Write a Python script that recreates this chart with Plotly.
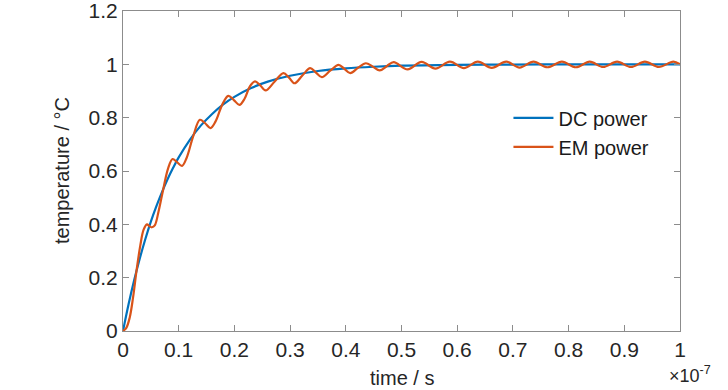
import plotly.graph_objects as go

# time in units of 1e-7 s
dc_t = [0, 0.01, 0.02, 0.03, 0.04, 0.05, 0.06, 0.07, 0.08, 0.09, 0.10, 0.12, 0.14, 0.16,
        0.18, 0.20, 0.23, 0.26, 0.30, 0.35, 0.40, 0.45, 0.50, 0.60, 0.70, 0.80, 0.90, 1.00]
dc_temp = [0, 0.100, 0.190, 0.271, 0.344, 0.410, 0.468, 0.521, 0.569, 0.612, 0.651, 0.717,
           0.771, 0.814, 0.850, 0.878, 0.911, 0.935, 0.957, 0.975, 0.985, 0.991, 0.995,
           0.998, 0.999, 1.000, 1.000, 1.000]

em_t = [0, 0.006, 0.012, 0.018, 0.024, 0.031, 0.037, 0.043, 0.048, 0.052, 0.057, 0.064,
        0.072, 0.081, 0.089, 0.097, 0.106, 0.114, 0.126, 0.138, 0.147, 0.157, 0.166, 0.178,
        0.189, 0.199, 0.209, 0.218, 0.228, 0.237, 0.246, 0.256, 0.272, 0.288, 0.298, 0.308,
        0.322, 0.336, 0.346, 0.357, 0.372, 0.387, 0.397, 0.408, 0.422, 0.436, 0.448, 0.461,
        0.474, 0.486, 0.511, 0.536, 0.561, 0.587, 0.612, 0.637, 0.662, 0.688, 0.712, 0.737,
        0.762, 0.788, 0.813, 0.838, 0.862, 0.887, 0.912, 0.937, 0.962, 0.988, 1.000]
em_temp = [0, 0.012, 0.050, 0.125, 0.222, 0.320, 0.380, 0.400, 0.392, 0.389, 0.396, 0.450,
           0.529, 0.610, 0.645, 0.633, 0.619, 0.648, 0.730, 0.792, 0.780, 0.761, 0.785, 0.848,
           0.882, 0.866, 0.848, 0.870, 0.918, 0.936, 0.922, 0.902, 0.935, 0.967, 0.950, 0.929,
           0.958, 0.986, 0.970, 0.952, 0.976, 0.998, 0.984, 0.967, 0.987, 1.004, 0.992, 0.977,
           0.994, 1.008, 0.981, 1.009, 0.984, 1.010, 0.986, 1.010, 0.987, 1.010, 0.988, 1.010,
           0.989, 1.010, 0.989, 1.010, 0.990, 1.010, 0.990, 1.010, 0.990, 1.010, 1.000]

x_ticks = [0, 0.1, 0.2, 0.3, 0.4, 0.5, 0.6, 0.7, 0.8, 0.9, 1.0]
x_labels = ["0", "0.1", "0.2", "0.3", "0.4", "0.5", "0.6", "0.7", "0.8", "0.9", "1"]
y_ticks = [0, 0.2, 0.4, 0.6, 0.8, 1.0, 1.2]
y_labels = ["0", "0.2", "0.4", "0.6", "0.8", "1", "1.2"]

FONT = "Liberation Sans, Arial, sans-serif"
TXT = "#262626"

fig = go.Figure()
fig.add_trace(go.Scatter(x=dc_t, y=dc_temp, mode="lines", name="DC power",
                         line=dict(color="#0072BD", width=2.2, shape="spline")))
fig.add_trace(go.Scatter(x=em_t, y=em_temp, mode="lines", name="EM power",
                         line=dict(color="#D95319", width=2.2, shape="spline", smoothing=1.0)))

axis_common = dict(showline=True, linecolor="#8c8c8c", linewidth=1, mirror="ticks",
                   ticks="inside", ticklen=6, tickcolor="#8c8c8c", showgrid=False,
                   zeroline=False, automargin=False, ticklabeloverflow="allow",
                   tickfont=dict(family=FONT, size=21, color=TXT))

fig.update_xaxes(range=[0, 1.0], tickvals=x_ticks, ticktext=x_labels, **axis_common)
fig.update_yaxes(range=[0, 1.2], tickvals=y_ticks, ticktext=y_labels, **axis_common)

fig.add_annotation(text="time / s", xref="paper", yref="paper", x=0.5, y=0,
                   xanchor="center", yanchor="middle", yshift=-47, showarrow=False,
                   font=dict(family=FONT, size=20, color=TXT))
fig.add_annotation(text="temperature / °C", xref="paper", yref="paper", x=0, y=0.5,
                   xanchor="center", yanchor="middle", xshift=-61, textangle=-90,
                   showarrow=False, font=dict(family=FONT, size=20, color=TXT))
fig.add_annotation(text="×10<sup>-7</sup>", xref="paper", yref="paper", x=1.0, y=0,
                   xanchor="left", yanchor="middle", xshift=-13, yshift=-43, showarrow=False,
                   font=dict(family=FONT, size=18, color=TXT))

fig.update_layout(width=728, height=390, margin=dict(l=123, r=48, t=11, b=59),
                  paper_bgcolor="white", plot_bgcolor="white",
                  legend=dict(x=0.692, y=0.727, xanchor="left", yanchor="top",
                              bgcolor="rgba(255,255,255,0)",
                              font=dict(family=FONT, size=20, color="#1a1a1a"),
                              itemwidth=40, tracegroupgap=0),
                  showlegend=True)

fig.write_html("out.html", config={"displayModeBar": False},
               post_script="document.body.style.margin='0px';document.body.style.padding='0px';")
